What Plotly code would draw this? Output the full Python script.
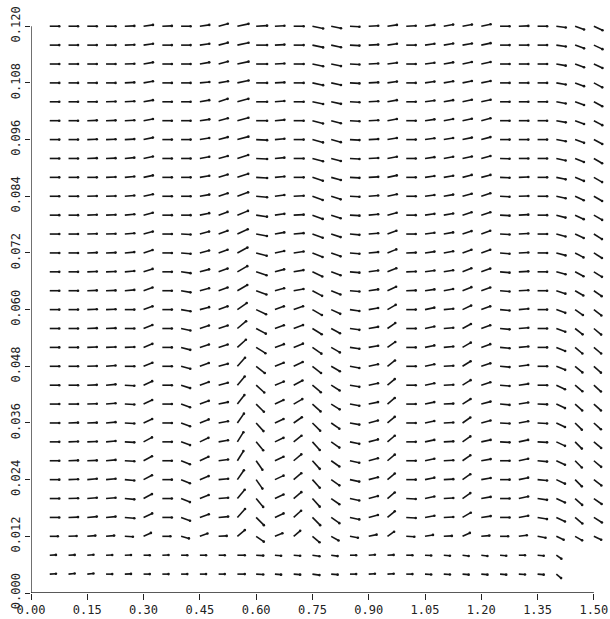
import numpy as np
import plotly.graph_objects as go

# grid of sample points
x_vals = [round(0.05 * (i + 1), 2) for i in range(30)]          # 0.05 .. 1.50
y_vals = [round(0.120 - 0.004 * j, 3) for j in range(30)]       # 0.120 .. 0.004 (top to bottom)

x_ticks = [0.00, 0.15, 0.30, 0.45, 0.60, 0.75, 0.90, 1.05, 1.20, 1.35, 1.50]
x_tick_text = ["0.00", "0.15", "0.30", "0.45", "0.60", "0.75", "0.90", "1.05", "1.20", "1.35", "1.50"]
y_ticks = [0.000, 0.012, 0.024, 0.036, 0.048, 0.060, 0.072, 0.084, 0.096, 0.108, 0.120]
y_tick_text = ["0.000", "0.012", "0.024", "0.036", "0.048", "0.060", "0.072", "0.084", "0.096", "0.108", "0.120"]

# apparent direction of each vector (degrees, counter-clockwise from +x), rows top -> bottom
N = None
angles_deg = [
    [0,0,0,0,2,8,2,0,8,15,   12,3,3,0,-12,-12,-3,3,8,3,    8,10,10,12,0,2,0,-8,-20,-25],
    [0,0,0,0,2,8,0,0,8,15,   12,0,3,0,-12,-12,-3,3,8,0,    8,10,10,12,0,0,0,-8,-20,-25],
    [0,0,0,0,2,10,0,0,10,15, 12,0,3,0,-12,-12,-3,3,8,0,    8,10,12,12,0,0,0,-10,-20,-25],
    [0,0,0,0,3,10,0,0,5,10,  12,0,3,0,-12,-12,-3,3,8,0,    8,10,12,12,0,0,0,-10,-20,-28],
    [0,0,0,2,3,10,0,0,10,18, 15,0,5,0,-12,-12,-3,3,10,0,   8,10,12,12,0,0,0,-10,-20,-28],
    [0,0,2,2,3,10,0,0,8,15,  15,0,5,0,-15,-15,-3,3,10,0,   8,10,12,15,0,0,0,-10,-20,-28],
    [0,0,2,2,3,12,0,0,10,15, 15,-3,5,0,-15,-15,-3,3,10,0,  8,10,12,15,0,0,0,-10,-20,-28],
    [0,0,2,2,5,12,0,0,10,15, 18,-3,5,0,-15,-15,-3,3,10,0,  8,10,12,15,-2,0,0,-12,-22,-30],
    [0,0,0,2,5,12,0,0,10,18, 18,-3,5,0,-18,-15,-3,3,12,0,  8,10,15,15,-2,2,0,-12,-22,-30],
    [0,0,2,2,5,12,0,0,10,18, 20,-5,8,3,-20,-18,-3,5,12,0,  8,10,15,18,-3,2,0,-12,-25,-30],
    [0,0,2,2,5,15,0,0,12,20, 22,-8,8,3,-20,-18,-3,5,15,0,  8,10,18,18,-3,3,0,-15,-25,-30],
    [0,0,2,2,5,15,0,-3,15,20, 25,-10,10,5,-20,-18,-5,5,20,0, 8,10,18,20,-3,3,0,-15,-25,-32],
    [0,0,2,2,5,18,0,-5,15,20, 28,-15,12,8,-22,-20,-5,5,22,2, 8,10,20,20,-5,3,0,-15,-28,-32],
    [0,0,2,2,5,18,0,-8,15,20, 30,-18,15,10,-25,-20,-5,8,22,2, 8,10,22,20,-5,3,0,-15,-28,-32],
    [0,0,2,2,5,20,0,-10,15,20, 30,-20,15,10,-28,-22,-5,8,25,2, 8,10,22,20,-5,3,0,-18,-30,-35],
    [0,0,2,2,0,20,0,-10,15,20, 35,-25,20,20,-30,-25,-8,10,30,0, 12,5,25,20,-5,5,0,-20,-35,-38],
    [0,0,2,2,0,22,0,-12,18,18, 40,-28,20,20,-32,-28,-8,10,35,0, 12,5,28,20,-5,5,0,-20,-38,-40],
    [0,0,2,2,2,22,0,-15,18,18, 42,-32,20,22,-35,-30,-8,10,35,0, 12,5,30,20,-5,5,0,-22,-40,-40],
    [0,0,2,5,0,22,0,-15,20,15, 48,-38,22,25,-38,-30,-10,12,38,0, 12,3,32,18,-5,8,0,-22,-40,-42],
    [0,0,2,5,-3,25,0,-18,20,15, 50,-42,22,28,-40,-32,-10,12,40,0, 12,3,32,18,-5,8,0,-25,-40,-42],
    [0,0,2,5,-3,25,0,-20,20,12, 52,-45,25,30,-42,-32,-10,12,40,0, 12,3,32,15,-5,10,-2,-25,-42,-42],
    [0,2,2,5,-3,25,0,-20,22,10, 55,-48,25,35,-45,-35,-10,15,40,0, 12,3,35,15,-3,10,-3,-25,-45,-42],
    [0,2,2,5,-3,28,0,-20,25,10, 58,-50,25,38,-48,-35,-12,15,40,0, 12,3,35,12,-3,12,-3,-25,-45,-40],
    [0,2,2,5,-3,28,0,-22,25,8,  58,-55,25,40,-48,-35,-12,15,40,0, 12,3,35,10,0,12,-5,-25,-45,-40],
    [0,2,5,5,-5,28,0,-22,22,5,  55,-55,25,40,-48,-35,-12,15,40,0, 12,3,35,10,0,12,-5,-25,-45,-38],
    [0,2,5,5,-5,28,0,-22,22,5,  50,-50,25,40,-48,-35,-12,15,40,-3, 12,3,35,10,0,12,-8,-25,-42,-35],
    [0,2,5,5,-5,25,0,-20,20,5,  48,-45,25,42,-45,-35,-12,15,40,-3, 10,3,30,8,0,10,-10,-25,-40,-32],
    [0,2,5,5,-3,25,0,-15,20,3,  40,-35,22,40,-40,-30,-10,12,35,-3, 10,3,25,5,0,8,-10,-25,-30,-25],
    [3,3,5,2,2,0,2,0,0,0,       0,-3,-5,-5,-8,-8,0,5,3,0,      -3,-5,-8,-8,-5,0,-5,-35,N,N],
    [3,5,5,0,2,0,0,0,0,0,       0,-3,-5,-5,-8,-5,0,3,3,0,      -3,-3,-5,-5,-5,-3,-5,-40,N,N],
]

# relative vector lengths
row_scale = [1.0] * 27 + [0.85, 0.65, 0.65]
col_scale = [1.0] * 10 + [1.2, 1.15, 1.0, 1.05, 1.15, 1.05] + [1.0] * 14

BASE_PX = 9.5
X_RANGE = [0, 1.535]
Y_RANGE = [0, 0.1228]
W, H = 610, 619
ML, MR, MT, MB = 31, 3, 13, 26
px_per_x = (W - ML - MR) / (X_RANGE[1] - X_RANGE[0])
px_per_y = (H - MT - MB) / (Y_RANGE[1] - Y_RANGE[0])

lx, ly, tx, ty = [], [], [], []
for r, yv in enumerate(y_vals):
    for c, xv in enumerate(x_vals):
        a = angles_deg[r][c]
        if a is None:
            continue
        L = BASE_PX * row_scale[r] * col_scale[c]
        t = np.radians(a)
        x1 = xv + L * np.cos(t) / px_per_x
        y1 = yv + L * np.sin(t) / px_per_y
        lx += [xv, x1, None]
        ly += [yv, y1, None]
        tx.append(x1)
        ty.append(y1)

fig = go.Figure()
fig.add_trace(go.Scatter(x=lx, y=ly, mode="lines",
                         line=dict(color="#151515", width=1.6),
                         hoverinfo="skip", showlegend=False))
fig.add_trace(go.Scatter(x=tx, y=ty, mode="markers",
                         marker=dict(color="#151515", size=2.6),
                         hoverinfo="skip", showlegend=False))

fig.add_shape(type="line", xref="x", yref="y", x0=0, y0=0, x1=1.5, y1=0,
              line=dict(color="#222", width=1.3))
fig.add_shape(type="line", xref="x", yref="y", x0=0, y0=0, x1=0, y1=0.12,
              line=dict(color="#222", width=1.3))

font = dict(family="DejaVu Sans Mono", size=12, color="#222")
fig.update_layout(
    width=W, height=H,
    margin=dict(l=ML, r=MR, t=MT, b=MB),
    paper_bgcolor="white", plot_bgcolor="white",
    showlegend=False,
    xaxis=dict(range=X_RANGE, tickvals=x_ticks, ticktext=x_tick_text,
               ticks="outside", ticklen=6, tickwidth=1.2, tickcolor="#222",
               showgrid=False, zeroline=False, showline=False, tickfont=font),
    yaxis=dict(range=Y_RANGE, tickvals=y_ticks, ticktext=y_tick_text,
               ticks="outside", ticklen=5, tickwidth=1.2, tickcolor="#222",
               tickangle=-90,
               showgrid=False, zeroline=False, showline=False, tickfont=font),
)

fig.write_html("out.html", config={"displayModeBar": False},
               post_script="document.body.style.margin='0px';document.body.style.overflow='hidden';")
